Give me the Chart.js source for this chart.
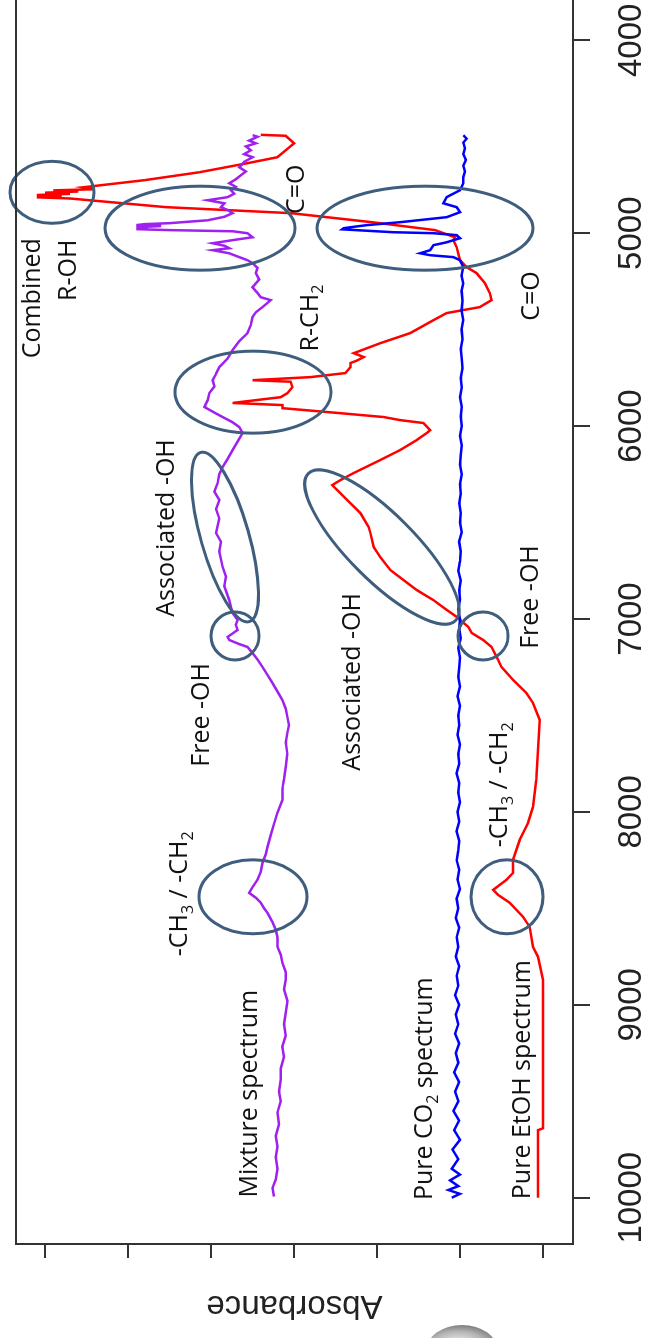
<!DOCTYPE html>
<html>
<head>
<meta charset="utf-8">
<script src="https://cdn.jsdelivr.net/npm/chart.js@4.4.1/dist/chart.umd.min.js"></script>
<style>
  html, body { margin: 0; padding: 0; background: #fff; overflow: hidden; }
  body { width: 649px; height: 1338px; position: relative; }
  /* the whole plot is drawn landscape, then turned a quarter to the left */
  #wrap {
    position: absolute; left: 0; top: 0; width: 1400px; height: 649px;
    transform-origin: 0 0; transform: translate(0px, 1338px) rotate(-90deg);
  }
  .blob {
    position: absolute; left: 426px; top: 1325px; width: 72px; height: 26px;
    border-radius: 50% 50% 0 0 / 100% 100% 0 0;
    background: radial-gradient(ellipse at 45% 70%, #f2f2f2 0%, #b5b5b5 45%, #6a6a6a 80%, #444 100%);
  }
</style>
</head>
<body>
<div id="wrap"><canvas id="c" width="1400" height="649"></canvas></div>
<div class="blob"></div>
<script>
// wavenumber ticks and absorbance ticks (absorbance has no numbers shown)
const waveTicks = [4000, 5000, 6000, 7000, 8000, 9000, 10000];
const absTicks = [0, 0.5, 1, 1.5, 2, 2.5, 3];

// Pure EtOH spectrum
const redWave = [4490,4495,4534,4570,4606,4637,4684,4725,4762,4772,
  4778,4784,4790,4796,4802,4808,4814,4820,4865,4896,
  4943,4984,5021,5036,5072,5140,5176,5207,5259,5311,
  5347,5383,5414,5451,5518,5570,5622,5642,5660,5673,
  5694,5725,5746,5762,5770,5798,5829,5850,5880,5891,
  5907,5933,5953,5969,5984,6021,6036,6072,6124,6176,
  6243,6280,6306,6331,6383,6451,6523,6554,6627,6679,
  6746,6798,6850,6902,6953,6989,7041,7072,7109,7145,
  7212,7249,7316,7383,7435,7523,7834,7974,8057,8145,
  8248,8316,8352,8404,8430,8471,8544,8596,8699,8751,
  8870,9640,9650,10000];
const redAbs = [1.70,1.55,1.50,1.55,1.60,1.78,2.07,2.40,2.77,2.70,
  2.95,2.80,3.00,2.85,3.05,2.90,3.05,2.85,2.27,1.52,
  1.03,0.65,0.53,0.54,0.52,0.50,0.46,0.40,0.35,0.32,
  0.31,0.38,0.58,0.66,0.80,0.98,1.14,1.08,1.12,1.16,
  1.16,1.19,1.40,1.75,1.52,1.51,1.54,1.58,1.87,1.57,
  1.57,1.22,0.96,0.86,0.72,0.68,0.70,0.76,0.86,0.98,
  1.14,1.22,1.27,1.24,1.18,1.10,1.05,1.04,1.02,0.98,
  0.92,0.84,0.76,0.66,0.58,0.52,0.45,0.43,0.36,0.31,
  0.27,0.25,0.18,0.10,0.06,0.02,0.04,0.06,0.09,0.14,
  0.18,0.18,0.22,0.30,0.27,0.20,0.12,0.08,0.06,0.03,
  0.00,0.00,0.03,0.03];

// Pure CO2 spectrum
const blueWave = [4492,4510,4530,4560,4590,4620,4650,4680,4710,4741,
  4777,4813,4845,4865,4891,4917,4943,4958,4968,4974,
  4980,4995,5000,5010,5026,5047,5062,5088,5104,5114,
  5124,5140,5176,5220,5260,5300,5350,5400,5450,5500,
  5550,5600,5650,5700,5750,5800,5850,5900,5950,6000,
  6050,6100,6150,6200,6250,6300,6350,6400,6450,6500,
  6550,6600,6650,6700,6750,6800,6850,6900,6950,7000,
  7050,7100,7150,7200,7250,7300,7350,7400,7450,7500,
  7550,7600,7650,7700,7750,7800,7850,7900,7950,8000,
  8050,8100,8150,8200,8250,8300,8350,8400,8450,8500,
  8550,8600,8650,8700,8750,8800,8850,8900,8950,9000,
  9050,9100,9150,9200,9250,9300,9350,9400,9450,9500,
  9550,9600,9650,9700,9750,9800,9850,9880,9910,9940,
  9960,9980,10000];
const blueAbs = [0.48,0.46,0.48,0.47,0.48,0.465,0.48,0.47,0.48,0.48,
  0.50,0.58,0.60,0.52,0.50,0.58,0.86,1.06,1.15,1.20,
  1.21,0.90,0.66,0.52,0.50,0.58,0.66,0.68,0.74,0.68,
  0.54,0.50,0.48,0.49,0.48,0.49,0.485,0.49,0.48,0.49,
  0.485,0.495,0.49,0.485,0.495,0.49,0.50,0.49,0.495,0.49,
  0.50,0.49,0.495,0.50,0.49,0.50,0.495,0.505,0.495,0.50,
  0.49,0.505,0.495,0.50,0.51,0.495,0.505,0.50,0.51,0.50,
  0.505,0.495,0.51,0.50,0.505,0.51,0.50,0.515,0.50,0.51,
  0.505,0.515,0.50,0.51,0.505,0.52,0.505,0.51,0.50,0.515,
  0.505,0.52,0.505,0.51,0.52,0.505,0.515,0.50,0.52,0.51,
  0.525,0.505,0.52,0.51,0.525,0.505,0.52,0.51,0.53,0.505,
  0.525,0.51,0.53,0.505,0.525,0.51,0.535,0.505,0.53,0.51,
  0.54,0.505,0.535,0.50,0.545,0.51,0.55,0.50,0.56,0.51,
  0.57,0.50,0.55];

// Mixture spectrum
const purpleWave = [4492,4500,4520,4534,4550,4570,4590,4606,4630,4658,
  4680,4699,4720,4741,4760,4777,4795,4813,4829,4845,
  4865,4880,4896,4915,4933,4948,4953,4958,4963,4969,
  4974,4979,4984,4990,5000,5021,5036,5052,5065,5078,
  5088,5104,5124,5140,5155,5180,5207,5240,5280,5310,
  5332,5347,5383,5410,5435,5475,5518,5560,5606,5650,
  5694,5730,5762,5795,5829,5865,5901,5930,5953,5980,
  6005,6036,6080,6124,6170,6212,6250,6295,6340,6383,
  6430,6480,6554,6600,6650,6730,6780,6830,6902,6940,
  6969,7005,7030,7057,7075,7093,7109,7130,7145,7176,
  7210,7249,7290,7331,7375,7420,7465,7508,7550,7590,
  7640,7700,7767,7830,7880,7938,8005,8060,8120,8181,
  8220,8264,8310,8352,8390,8420,8445,8471,8500,8523,
  8570,8611,8650,8699,8740,8782,8830,8870,8920,8980,
  9041,9100,9160,9217,9270,9330,9388,9450,9500,9559,
  9620,9680,9735,9790,9850,9906,9950,9994];
const purpleAbs = [1.75,1.72,1.77,1.73,1.79,1.76,1.80,1.75,1.80,1.83,
  1.79,1.82,1.85,1.89,1.85,1.88,1.86,1.90,2.02,1.92,
  1.94,1.90,1.87,1.92,2.02,2.25,2.40,2.45,2.30,2.45,
  2.38,2.45,2.25,1.87,1.78,1.75,1.87,1.99,1.92,1.89,
  1.99,1.89,1.83,1.78,1.75,1.72,1.73,1.71,1.75,1.72,
  1.70,1.64,1.69,1.73,1.75,1.76,1.78,1.83,1.87,1.90,
  1.95,1.97,1.99,1.98,2.01,2.02,2.04,1.98,1.93,1.87,
  1.83,1.81,1.84,1.87,1.90,1.93,1.95,1.96,1.98,1.95,
  1.97,1.95,1.97,1.94,1.95,1.93,1.91,1.92,1.89,1.88,
  1.87,1.84,1.85,1.84,1.87,1.90,1.89,1.83,1.78,1.75,
  1.72,1.69,1.66,1.63,1.60,1.57,1.55,1.54,1.53,1.54,
  1.55,1.54,1.55,1.56,1.57,1.57,1.60,1.62,1.64,1.66,
  1.67,1.69,1.70,1.72,1.75,1.77,1.73,1.70,1.68,1.66,
  1.63,1.61,1.60,1.60,1.58,1.57,1.55,1.55,1.56,1.54,
  1.55,1.56,1.55,1.57,1.56,1.58,1.58,1.59,1.58,1.60,
  1.59,1.61,1.60,1.61,1.60,1.61,1.63,1.62];

// circled bands: centre in data units, radii in px along wavenumber / absorbance, tilt in degrees
const rings = [
  { w: 4788, a: 2.958, rx: 31, ry: 42, tilt: 0 },
  { w: 4974, a: 2.066, rx: 42, ry: 95, tilt: 0 },
  { w: 4974, a: 0.711, rx: 42, ry: 108, tilt: 0 },
  { w: 5824, a: 1.747, rx: 41, ry: 78, tilt: 0 },
  { w: 6575, a: 1.916, rx: 88, ry: 24, tilt: -16 },
  { w: 7088, a: 1.855, rx: 24, ry: 24, tilt: 0 },
  { w: 6627, a: 0.970, rx: 104, ry: 33, tilt: -45 },
  { w: 7088, a: 0.361, rx: 24, ry: 25, tilt: 0 },
  { w: 8440, a: 1.747, rx: 37, ry: 54, tilt: 0 },
  { w: 8440, a: 0.217, rx: 37, ry: 36, tilt: 0 },
];

// labels: text pieces (second item = subscript), centre in data units
const notes = [
  { t: [['Combined']], w: 5337, a: 3.072 },
  { t: [['R-OH']], w: 5192, a: 2.855 },
  { t: [['C=O']], w: 4772, a: 1.482 },
  { t: [['R-CH'], ['2', 1]], w: 5440, a: 1.398 },
  { t: [['C=O']], w: 5326, a: 0.066 },
  { t: [['Associated -OH']], w: 6528, a: 2.265 },
  { t: [['Free -OH']], w: 7497, a: 2.054 },
  { t: [['Associated -OH']], w: 7326, a: 1.145 },
  { t: [['Free -OH']], w: 6886, a: 0.072 },
  { t: [['-CH'], ['3', 1], [' / -CH'], ['2', 1]], w: 8425, a: 2.187 },
  { t: [['-CH'], ['3', 1], [' / -CH'], ['2', 1]], w: 7860, a: 0.259 },
  { t: [['Mixture spectrum']], w: 9461, a: 1.765 },
  { t: [['Pure CO'], ['2', 1], [' spectrum']], w: 9435, a: 0.711 },
  { t: [['Pure EtOH spectrum']], w: 9388, a: 0.12 },
];

const toXY = (ws, as) => ws.map((w, i) => ({ x: w, y: as[i] }));

const FS = 25;
function fontFor(sub) {
  return (sub ? Math.round(FS * 0.62) : FS) + 'px "Open Sans"';
}

const marks = {
  id: 'marks',
  afterDatasetsDraw(chart) {
    const { ctx, scales: { x, y } } = chart;
    ctx.save();
    ctx.strokeStyle = '#3f5e7d';
    ctx.lineWidth = 3;
    rings.forEach(r => {
      ctx.beginPath();
      ctx.ellipse(x.getPixelForValue(r.w), y.getPixelForValue(r.a), r.rx, r.ry,
        r.tilt * Math.PI / 180, 0, Math.PI * 2);
      ctx.stroke();
    });

    ctx.fillStyle = '#111';
    ctx.textBaseline = 'middle';
    ctx.textAlign = 'left';
    notes.forEach(n => {
      let total = 0;
      n.t.forEach(p => { ctx.font = fontFor(p[1]); total += ctx.measureText(p[0]).width; });
      let px = x.getPixelForValue(n.w) - total / 2;
      const py = y.getPixelForValue(n.a);
      n.t.forEach(p => {
        ctx.font = fontFor(p[1]);
        ctx.fillText(p[0], px, p[1] ? py + FS * 0.32 : py);
        px += ctx.measureText(p[0]).width;
      });
    });
    ctx.restore();
  },
  afterDraw(chart) {
    const { ctx, chartArea: c } = chart;
    ctx.save();
    ctx.strokeStyle = '#333';
    ctx.lineWidth = 2;
    ctx.strokeRect(c.left, c.top, c.right - c.left, c.bottom - c.top);
    ctx.restore();
  }
};

const line = (data, color) => ({
  data, borderColor: color, borderWidth: 2.5, pointRadius: 0,
  tension: 0, fill: false, showLine: true
});

new Chart(document.getElementById('c'), {
  type: 'scatter',
  data: {
    datasets: [
      line(toXY(purpleWave, purpleAbs), '#a020f0'),
      line(toXY(blueWave, blueAbs), '#0000ff'),
      line(toXY(redWave, redAbs), '#ff0000'),
    ]
  },
  options: {
    responsive: false,
    animation: false,
    devicePixelRatio: 1,
    layout: { padding: { left: 0, right: 56, top: 16, bottom: 0 } },
    plugins: { legend: { display: false }, tooltip: { enabled: false } },
    scales: {
      x: {
        type: 'linear', position: 'bottom', reverse: true,
        min: 3760, max: 10240,
        afterBuildTicks: s => { s.ticks = waveTicks.map(v => ({ value: v })); },
        afterFit: s => { s.height = 76; },
        ticks: {
          callback: v => String(v), maxRotation: 0, minRotation: 0, padding: 22,
          color: '#222', font: { family: 'Liberation Sans', size: 33 }
        },
        grid: { drawOnChartArea: false, drawTicks: true, tickLength: 17, color: '#333', lineWidth: 2 },
        border: { display: true, color: '#333', width: 2 }
      },
      y: {
        type: 'linear', position: 'left',
        min: -0.181, max: 3.175,
        afterBuildTicks: s => { s.ticks = absTicks.map(v => ({ value: v })); },
        afterFit: s => { s.width = 94; },
        ticks: { callback: () => '', padding: 0 },
        grid: { drawOnChartArea: false, drawTicks: true, tickLength: 14, color: '#333', lineWidth: 2 },
        border: { display: true, color: '#333', width: 2 },
        title: {
          display: true, text: 'Absorbance', color: '#222',
          font: { family: 'Liberation Sans', size: 33 }, padding: { top: 13, bottom: 0 }
        }
      }
    }
  },
  plugins: [marks]
});
</script>
</body>
</html>
